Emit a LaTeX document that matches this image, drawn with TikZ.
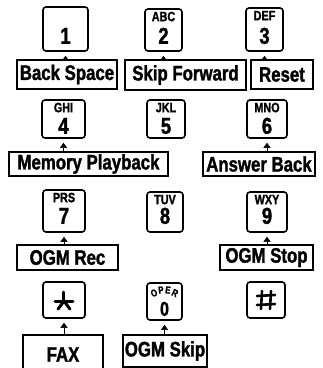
\documentclass[tikz,border=0pt]{standalone}
\usepackage{fontspec}
\newfontfamily\cond{Liberation Sans Bold}[FakeStretch=0.8,FakeBold=1.5]
\usetikzlibrary{arrows.meta}
\begin{document}
\begin{tikzpicture}[x=1pt,y=-1pt,
  keybox/.style={draw, line width=1.6pt, rounded corners=3pt, inner sep=0pt},
  lblbox/.style={draw, line width=1.6pt, inner sep=0pt, font=\cond\fontsize{21}{21}\selectfont},
  digit/.style={inner sep=0pt, font=\cond\fontsize{23}{23}\selectfont, anchor=base},
  letters/.style={inner sep=0pt, font=\cond\fontsize{13.5}{13.5}\selectfont, anchor=base},
  operl/.style={inner sep=0pt, font=\cond\fontsize{10}{10}\selectfont},
  symline/.style={line width=3pt, line cap=round},
  pointer/.style={-{Triangle[width=7pt,length=5pt]}, line width=0.5pt, shorten >=4pt}
]
\useasboundingbox (0,0) rectangle (323,368);
% key macro: name, x1, y1, x2, y2
\newcommand\keyat[5]{\node[keybox, minimum width=#4pt-#2pt, minimum height=#5pt-#3pt] (#1) at ({(#2+#4)/2},{(#3+#5)/2}) {};}
\newcommand\lblat[6]{\node[lblbox, minimum width=#4pt-#2pt, minimum height=#5pt-#3pt] (#1) at ({(#2+#4)/2},{(#3+#5)/2}) {#6};}
% keys
\keyat{k1}{43}{7}{88}{51}
\keyat{k2}{145}{9}{182}{51}
\keyat{k3}{246}{8}{283}{51}
\keyat{k4}{42}{100}{85}{138}
\keyat{k5}{147}{100}{185}{138}
\keyat{k6}{247}{100}{287}{138}
\keyat{k7}{43}{190}{85}{232}
\keyat{k8}{147}{192}{183}{232}
\keyat{k9}{247}{192}{287}{232}
\keyat{ks}{43}{282}{85}{318}
\keyat{k0}{147}{283}{182}{320}
\keyat{kh}{247}{282}{285}{318}
% digits
\node[digit] (d1) at ([yshift=8pt]k1.south) {1};
\node[digit] (d2) at ([yshift=8pt]k2.south) {2};
\node[digit] (d3) at ([yshift=8pt]k3.south) {3};
\node[digit] (d4) at ([yshift=5pt]k4.south) {4};
\node[digit] (d5) at ([yshift=5pt]k5.south) {5};
\node[digit] (d6) at ([yshift=5pt]k6.south) {6};
\node[digit] (d7) at ([yshift=9pt]k7.south) {7};
\node[digit] (d8) at ([yshift=9pt]k8.south) {8};
\node[digit] (d9) at ([yshift=9pt]k9.south) {9};
\node[digit, font=\cond\fontsize{20}{20}\selectfont] (d0) at ([yshift=5pt]k0.south) {0};
% star symbol
\coordinate (sc) at ([yshift=-1pt]ks.center);
\draw[symline] ([yshift=9pt]sc) -- (sc);
\draw[symline] ([xshift=-9pt]sc) -- ([xshift=9pt]sc);
\draw[symline] (sc) -- ++(-6,8);
\draw[symline] (sc) -- ++(6,8);
% hash symbol
\coordinate (hc) at (kh.center);
\draw[symline, line width=2.6pt] ([xshift=-9pt,yshift=4pt]hc) -- ([xshift=9pt,yshift=5pt]hc);
\draw[symline, line width=2.6pt] ([xshift=-9pt,yshift=-5pt]hc) -- ([xshift=9pt,yshift=-4pt]hc);
\draw[symline, line width=2.6pt] ([xshift=-4pt,yshift=9pt]hc) -- ([xshift=-5pt,yshift=-9pt]hc);
\draw[symline, line width=2.6pt] ([xshift=5pt,yshift=9pt]hc) -- ([xshift=4pt,yshift=-9pt]hc);
% letters
\node[letters] (l2) at ([yshift=-13pt]k2.north) {ABC};
\node[letters] (l3) at ([yshift=-13pt]k3.north) {DEF};
\node[letters] (l4) at ([yshift=-13pt]k4.north) {GHI};
\node[letters] (l5) at ([yshift=-13pt]k5.north) {JKL};
\node[letters] (l6) at ([yshift=-13pt]k6.north) {MNO};
\node[letters] (l7) at ([yshift=-13pt]k7.north) {PRS};
\node[letters] (l8) at ([yshift=-13pt]k8.north) {TUV};
\node[letters] (l9) at ([yshift=-13pt]k9.north) {WXY};
\node[operl, rotate=25] (o1) at (154,293) {O};
\node[operl, rotate=8] (o2) at (161,290) {P};
\node[operl, rotate=-8] (o3) at (168,290) {E};
\node[operl, rotate=-25] (o4) at (175,293) {R};
% labels
\lblat{bs}{17}{60}{117}{89}{Back Space}
\lblat{sf}{125}{60}{246}{90}{Skip Forward}
\lblat{rs}{251}{60}{313}{89}{Reset}
\lblat{mp}{9}{152}{168}{176}{Memory Playback}
\lblat{ab}{203}{152}{315}{176}{Answer Back}
\lblat{or}{17}{245}{118}{270}{OGM Rec}
\lblat{os}{220}{245}{313}{270}{OGM Stop}
\lblat{fx}{23}{335}{103}{374}{FAX}
\lblat{sk}{123}{335}{207}{367}{OGM Skip}
% pointers
\draw[pointer] (k1.south |- bs.north) -- (k1.south);
\draw[pointer] (k2.south |- sf.north) -- (k2.south);
\draw[pointer] (k3.south |- rs.north) -- (k3.south);
\draw[pointer] (k4.south |- mp.north) -- (k4.south);
\draw[pointer] (k6.south |- ab.north) -- (k6.south);
\draw[pointer] (k7.south |- or.north) -- (k7.south);
\draw[pointer] (k9.south |- os.north) -- (k9.south);
\draw[pointer] (ks.south |- fx.north) -- (ks.south);
\draw[pointer] (k0.south |- sk.north) -- (k0.south);
\end{tikzpicture}
\end{document}
